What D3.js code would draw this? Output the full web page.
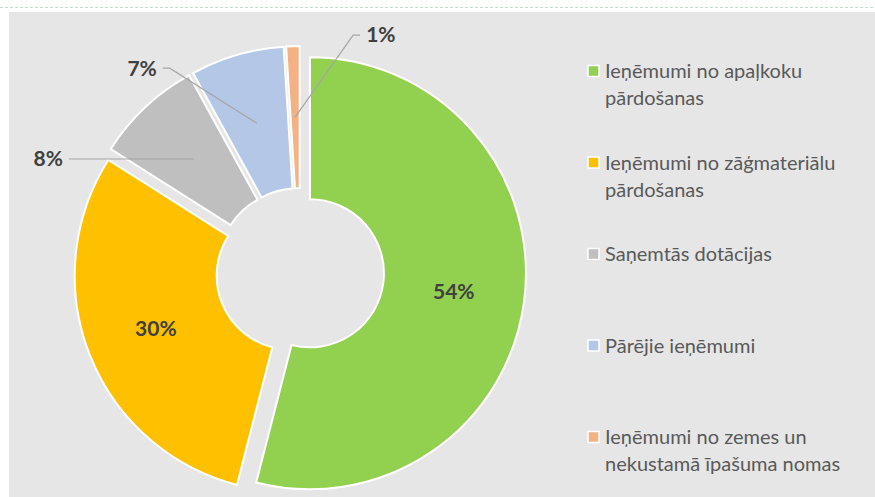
<!DOCTYPE html>
<html>
<head>
<meta charset="utf-8">
<script src="https://cdn.jsdelivr.net/npm/d3@7"></script>
<style>
  body { margin: 0; background: #fff; }
</style>
</head>
<body>
<svg id="chart"></svg>
<script>
// data
const categories = [
  ["Ieņēmumi no apaļkoku", "pārdošanas"],
  ["Ieņēmumi no zāģmateriālu", "pārdošanas"],
  ["Saņemtās dotācijas"],
  ["Pārējie ieņēmumi"],
  ["Ieņēmumi no zemes un", "nekustamā īpašuma nomas"]
];
const values = [54, 30, 8, 7, 1];
const colors = ["#92d050", "#ffc000", "#bfbfbf", "#b4c7e7", "#f4b183"];

const WIDTH = 875;
const HEIGHT = 497;

const svg = d3.select("#chart")
  .attr("width", WIDTH)
  .attr("height", HEIGHT);

const CENTER = { x: 300, y: 272 };
const OUTER = 216;
const INNER = 74;
const EXPLODE = 10;

// where the labels sit: inside on the centroid, or led out with a leader line
// knee / end are offsets from the slice centroid
const labelLayout = [
  { inside: true },
  { inside: true },
  { knee: [-125, 0], end: [-125, 0], anchor: "end" },
  { knee: [-87, -55], end: [-94, -55], anchor: "end" },
  { knee: [58, -82], end: [65, -82], anchor: "start" }
];

// top dashed line and plot background
svg.append("line")
  .attr("x1", 0).attr("x2", WIDTH)
  .attr("y1", 7.5).attr("y2", 7.5)
  .attr("stroke", "#b9e3c6")
  .attr("stroke-width", 1)
  .attr("stroke-dasharray", "3,2");

svg.append("rect")
  .attr("x", 9).attr("y", 12)
  .attr("width", WIDTH - 9).attr("height", HEIGHT - 12)
  .attr("fill", "#e6e6e6");

const pie = d3.pie().sort(null).value(d => d);
const arcs = pie(values);
const total = d3.sum(values);

const arc = d3.arc().innerRadius(INNER).outerRadius(OUTER);

function offset(d) {
  const mid = (d.startAngle + d.endAngle) / 2;
  return [Math.sin(mid) * EXPLODE, -Math.cos(mid) * EXPLODE];
}

const g = svg.append("g")
  .attr("transform", `translate(${CENTER.x}, ${CENTER.y})`);

const slices = g.selectAll("g.slice")
  .data(arcs)
  .enter()
  .append("g")
  .attr("class", "slice")
  .attr("transform", d => {
    const o = offset(d);
    return `translate(${o[0]}, ${o[1]})`;
  });

slices.append("path")
  .attr("d", arc)
  .attr("fill", (d, i) => colors[i])
  .attr("stroke", "#fff")
  .attr("stroke-width", 2)
  .attr("stroke-linejoin", "miter");

// labels
const labelFont = "Lato, 'Open Sans', sans-serif";

arcs.forEach((d, i) => {
  const o = offset(d);
  const c = arc.centroid(d);
  const cx = c[0] + o[0];
  const cy = c[1] + o[1];
  const txt = Math.round(d.value / total * 100) + "%";
  const lay = labelLayout[i];

  if (lay.inside) {
    g.append("text")
      .attr("x", cx).attr("y", cy)
      .attr("text-anchor", "middle")
      .attr("dy", "0.35em")
      .attr("font-family", labelFont)
      .attr("font-weight", "bold")
      .attr("font-size", 21)
      .attr("fill", "#404040")
      .text(txt);
  } else {
    const kx = cx + lay.knee[0], ky = cy + lay.knee[1];
    const ex = cx + lay.end[0], ey = cy + lay.end[1];
    g.append("path")
      .attr("d", d3.line()([[cx, cy], [kx, ky], [ex, ey]]))
      .attr("fill", "none")
      .attr("stroke", "#a6a6a6")
      .attr("stroke-width", 1.2);
    g.append("text")
      .attr("x", lay.anchor === "end" ? ex - 6 : ex + 6)
      .attr("y", ey)
      .attr("dy", "0.35em")
      .attr("text-anchor", lay.anchor)
      .attr("font-family", labelFont)
      .attr("font-weight", "bold")
      .attr("font-size", 21)
      .attr("fill", "#404040")
      .text(txt);
  }
});

// legend
const legendY = d3.scalePoint()
  .domain(d3.range(categories.length))
  .range([71, 437]);

const legend = svg.append("g").attr("class", "legend");

categories.forEach((lines, i) => {
  const y = legendY(i);
  legend.append("rect")
    .attr("x", 588).attr("y", y - 5.5)
    .attr("width", 11).attr("height", 11)
    .attr("fill", colors[i])
    .attr("stroke", "#fff")
    .attr("stroke-width", 1.5);
  const t = legend.append("text")
    .attr("x", 605)
    .attr("y", y)
    .attr("font-family", labelFont)
    .attr("font-size", 20)
    .attr("fill", "#595959");
  lines.forEach((line, j) => {
    t.append("tspan")
      .attr("x", 605)
      .attr("y", y + j * 27)
      .attr("dy", "0.35em")
      .text(line);
  });
});
</script>
</body>
</html>
